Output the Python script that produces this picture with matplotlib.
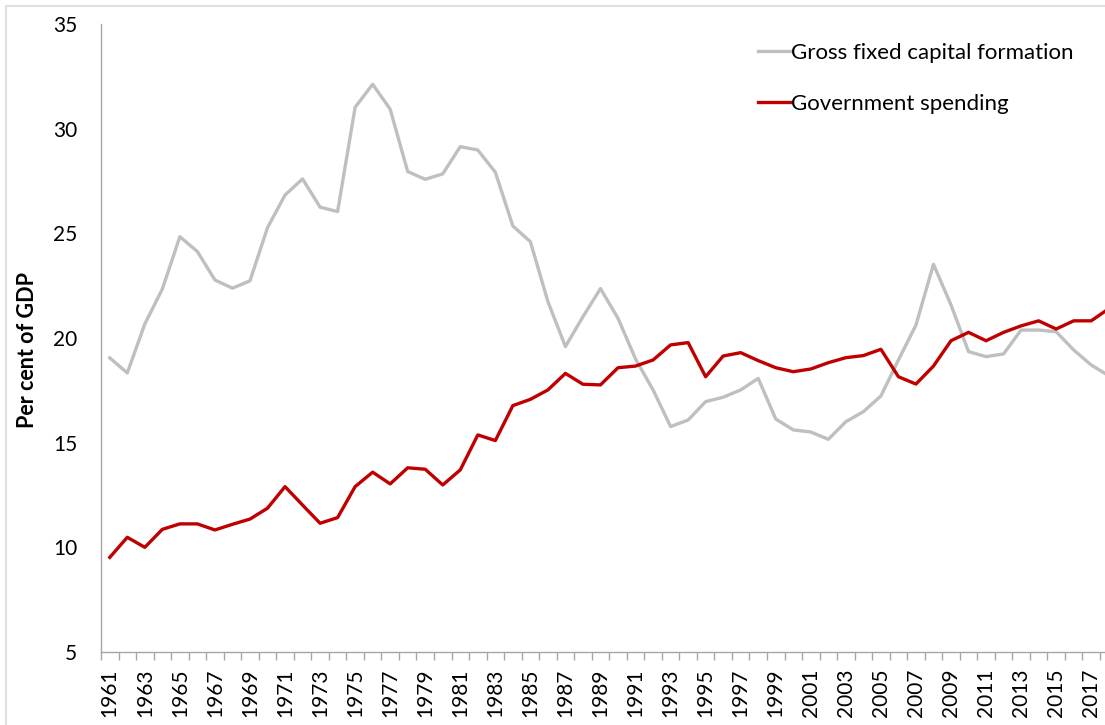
import numpy as np
import matplotlib
matplotlib.use("Agg")
import matplotlib.pyplot as plt
from matplotlib.patches import Rectangle

# ── Data (per cent of GDP) ─────────────────────────────────────────────────────
years = list(range(1961, 2019))

gfcf = [19.05, 18.33, 20.67, 22.34, 24.84, 24.13, 22.77, 22.38, 22.73, 25.27,
        26.83, 27.60, 26.25, 26.04, 31.02, 32.12, 30.93, 27.95, 27.58, 27.84,
        29.14, 28.98, 27.92, 25.35, 24.60, 21.74, 19.59, 21.02, 22.36, 20.94,
        19.00, 17.52, 15.77, 16.08, 16.96, 17.17, 17.52, 18.07, 16.13, 15.61,
        15.51, 15.16, 16.00, 16.48, 17.23, 18.95, 20.62, 23.52, 21.58, 19.35,
        19.11, 19.24, 20.38, 20.38, 20.30, 19.43, 18.71, 18.20]

gov = [9.52, 10.48, 10.00, 10.86, 11.12, 11.12, 10.83, 11.10, 11.35, 11.87,
       12.90, 12.02, 11.15, 11.42, 12.90, 13.59, 13.03, 13.80, 13.73, 12.98,
       13.70, 15.37, 15.10, 16.77, 17.07, 17.52, 18.31, 17.79, 17.76, 18.58,
       18.66, 18.95, 19.67, 19.78, 18.15, 19.14, 19.30, 18.92, 18.58, 18.39,
       18.52, 18.82, 19.06, 19.16, 19.46, 18.15, 17.80, 18.66, 19.87, 20.27,
       19.87, 20.27, 20.58, 20.82, 20.43, 20.82, 20.82, 21.40]

series_labels = ["Gross fixed capital formation", "Government spending"]
y_ticks = [5, 10, 15, 20, 25, 30, 35]
year_labels = years[::2]

# ── Styling ────────────────────────────────────────────────────────────────────
C_GREY = "#BFBFBF"
C_RED = "#C00000"
C_AXIS = "#A6A6A6"
FONT = "Lato"

W, H = 1105, 725
fig = plt.figure(figsize=(W / 100, H / 100), dpi=100)

# Excel-style chart area border (cropped on the right and bottom)
fig.patches.append(Rectangle((6 / W, -0.1), 1.2, 1 - 6 / H + 0.1,
                             transform=fig.transFigure, fill=False,
                             edgecolor="#D9D9D9", linewidth=1.2))

# axes run slightly past the right edge, as in the cropped original
left, right, top, bottom = 101, 1117.5, 24, 652
ax = fig.add_axes([left / W, (H - bottom) / H, (right - left) / W, (bottom - top) / H])

ax.plot(years, gfcf, color=C_GREY, linewidth=2.4, label=series_labels[0],
        solid_joinstyle="round")
ax.plot(years, gov, color=C_RED, linewidth=2.4, label=series_labels[1],
        solid_joinstyle="round")

ax.set_xlim(years[0] - 0.5, years[-1] + 0.5)
ax.set_ylim(5, 35)

# category boundaries get the tick marks, odd years get the labels
ax.set_xticks(np.arange(years[0] - 0.5, years[-1] + 1.0, 1.0))
ax.set_xticklabels([])
ax.set_xticks(year_labels, minor=True)
ax.set_xticklabels([str(y) for y in year_labels], minor=True, rotation=90,
                   fontsize=15, family=FONT)
ax.tick_params(axis="x", which="major", length=5.5, width=1.0, color=C_AXIS,
               direction="out")
ax.tick_params(axis="x", which="minor", length=0, pad=12)

ax.set_yticks(y_ticks)
ax.set_yticklabels([str(v) for v in y_ticks], fontsize=15, family=FONT)
ax.tick_params(axis="y", length=0, pad=17)

for side in ["top", "right"]:
    ax.spines[side].set_visible(False)
for side in ["left", "bottom"]:
    ax.spines[side].set_color(C_AXIS)
    ax.spines[side].set_linewidth(1.0)

ylab = fig.text(28 / W, 1 - 350 / H, "Per cent of GDP", rotation=90, ha="center",
                va="center", fontsize=14, fontweight="bold", family=FONT)

leg = ax.legend(loc="upper left", bbox_to_anchor=(758 / W, 1 - 43 / H),
                bbox_transform=fig.transFigure, frameon=False, borderpad=0,
                borderaxespad=0, handlelength=1.45, handletextpad=0.05,
                labelspacing=1.4, prop={"family": FONT, "size": 16})

# scale the free-standing texts to the measured widths of the original
fig.canvas.draw()
r = fig.canvas.get_renderer()
h = ylab.get_window_extent(r).height
ylab.set_fontsize(14 * 157 / h)
t0 = leg.get_texts()[0]
w0 = t0.get_window_extent(r).width
for t in leg.get_texts():
    t.set_fontsize(16 * 283 / w0)

fig.savefig("out.png", dpi=100)
